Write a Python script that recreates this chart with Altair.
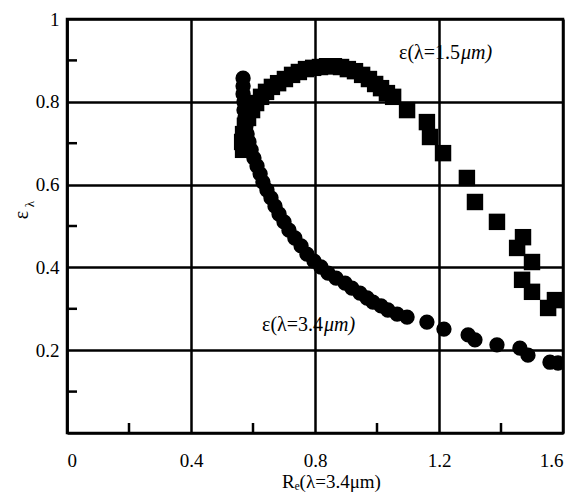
import altair as alt
import pandas as pd

# epsilon at lambda = 1.5 um (squares)
sq_x = [0.568, 0.565, 0.568, 0.574, 0.584, 0.597, 0.610, 0.626, 0.642, 0.661,
        0.681, 0.703, 0.726, 0.748, 0.771, 0.794, 0.816, 0.839, 0.861, 0.884,
        0.906, 0.929, 0.952, 0.974, 0.994, 1.013, 1.032, 1.052, 1.097, 1.161,
        1.171, 1.213, 1.290, 1.316, 1.387, 1.471, 1.452, 1.500, 1.468, 1.500,
        1.552, 1.574]
sq_y = [0.684, 0.703, 0.722, 0.742, 0.761, 0.780, 0.797, 0.812, 0.824, 0.836,
        0.845, 0.855, 0.865, 0.872, 0.879, 0.882, 0.884, 0.886, 0.886, 0.884,
        0.879, 0.874, 0.865, 0.855, 0.843, 0.833, 0.821, 0.812, 0.780, 0.751,
        0.715, 0.676, 0.616, 0.558, 0.510, 0.473, 0.447, 0.413, 0.370, 0.341,
        0.302, 0.321]

# epsilon at lambda = 3.4 um (circles)
ci_x = [0.568, 0.568, 0.568, 0.571, 0.571, 0.574, 0.577, 0.581, 0.587, 0.594,
        0.603, 0.613, 0.623, 0.632, 0.645, 0.658, 0.671, 0.684, 0.700, 0.716,
        0.735, 0.755, 0.774, 0.797, 0.819, 0.842, 0.868, 0.897, 0.919, 0.945,
        0.968, 0.987, 1.013, 1.035, 1.065, 1.097, 1.161, 1.216, 1.294, 1.316,
        1.387, 1.461, 1.487, 1.558, 1.584]
ci_y = [0.857, 0.838, 0.819, 0.800, 0.780, 0.761, 0.742, 0.722, 0.703, 0.684,
        0.664, 0.645, 0.626, 0.606, 0.587, 0.568, 0.548, 0.529, 0.510, 0.490,
        0.471, 0.452, 0.432, 0.415, 0.401, 0.386, 0.374, 0.362, 0.350, 0.338,
        0.326, 0.316, 0.307, 0.297, 0.287, 0.280, 0.268, 0.251, 0.237, 0.225,
        0.213, 0.205, 0.188, 0.171, 0.169]

x_ticks = [0, 0.4, 0.8, 1.2, 1.6]
y_ticks = [0.2, 0.4, 0.6, 0.8, 1]
x_minor = [0.2, 0.6, 1.0, 1.4]
y_minor = [0.1, 0.3, 0.5, 0.7, 0.9]

ann_main = ["ε(λ=1.5", "ε(λ=3.4"]
ann_unit = ["μm)", "μm)"]
ann_x = [1.268, 0.826]
ann_y = [0.918, 0.262]

FONT = "Liberation Serif"

sq = pd.DataFrame({"x": sq_x, "y": sq_y})
ci = pd.DataFrame({"x": ci_x, "y": ci_y})
ann = pd.DataFrame({"a": ann_main, "u": ann_unit, "x": ann_x, "y": ann_y})

xs = alt.Scale(domain=[0, 1.6], nice=False)
ys = alt.Scale(domain=[0, 1], nice=False)

xaxis = alt.Axis(values=x_ticks, format=".1~f", grid=True, gridColor="black",
                 gridWidth=2.5, gridOpacity=1, tickSize=0, domainColor="black",
                 domainWidth=2.5, labelFont=FONT, labelFontSize=19, labelColor="black",
                 labelPadding=18, title="Rₑ(λ=3.4μm)", titleFont=FONT,
                 titleFontSize=19, titleFontWeight="normal", titleColor="black",
                 titleX=264, titleY=48, titleBaseline="middle")
yaxis = alt.Axis(values=y_ticks, format=".1~f", grid=True, gridColor="black",
                 gridWidth=2.5, gridOpacity=1, tickSize=0, domainColor="black",
                 domainWidth=2.5, labelFont=FONT, labelFontSize=19, labelColor="black",
                 labelPadding=8, title=None)

base_sq = alt.Chart(sq).mark_square(size=270, color="black", opacity=1, clip=True).encode(
    x=alt.X("x:Q", scale=xs, axis=xaxis),
    y=alt.Y("y:Q", scale=ys, axis=yaxis),
)
circles = alt.Chart(ci).mark_circle(size=235, color="black", opacity=1, clip=True).encode(
    x=alt.X("x:Q", scale=xs),
    y=alt.Y("y:Q", scale=ys),
)
xmin = alt.Chart(pd.DataFrame({"x": x_minor})).mark_rule(color="black", strokeWidth=2.5).encode(
    x=alt.X("x:Q", scale=xs), y=alt.value(414), y2=alt.value(404))
ymin = alt.Chart(pd.DataFrame({"y": y_minor})).mark_rule(color="black", strokeWidth=2.5).encode(
    y=alt.Y("y:Q", scale=ys), x=alt.value(0), x2=alt.value(10))
lab_main = alt.Chart(ann).mark_text(font=FONT, fontSize=20, color="black", align="right").encode(
    x=alt.X("x:Q", scale=xs), y=alt.Y("y:Q", scale=ys), text="a:N")
lab_unit = alt.Chart(ann).mark_text(font=FONT, fontSize=20, color="black", align="left",
                                    fontStyle="italic", dx=1).encode(
    x=alt.X("x:Q", scale=xs), y=alt.Y("y:Q", scale=ys), text="u:N")
ytitle1 = alt.Chart(pd.DataFrame({"t": ["ε"]})).mark_text(
    font=FONT, fontSize=20, color="black", angle=270).encode(
    x=alt.value(-45), y=alt.value(196), text="t:N")
ytitle2 = alt.Chart(pd.DataFrame({"t": ["λ"]})).mark_text(
    font=FONT, fontSize=13, color="black", angle=270).encode(
    x=alt.value(-37), y=alt.value(185), text="t:N")

chart = alt.layer(base_sq, circles, xmin, ymin, lab_main, lab_unit, ytitle1, ytitle2).properties(
    width=496, height=414,
    autosize=alt.AutoSizeParams(type="none"),
    padding={"left": 67, "top": 19, "right": 11, "bottom": 63},
    background="white",
).configure_view(stroke="black", strokeWidth=2.5)

chart.save("out.html", embed_options={"renderer": "svg", "actions": False})
